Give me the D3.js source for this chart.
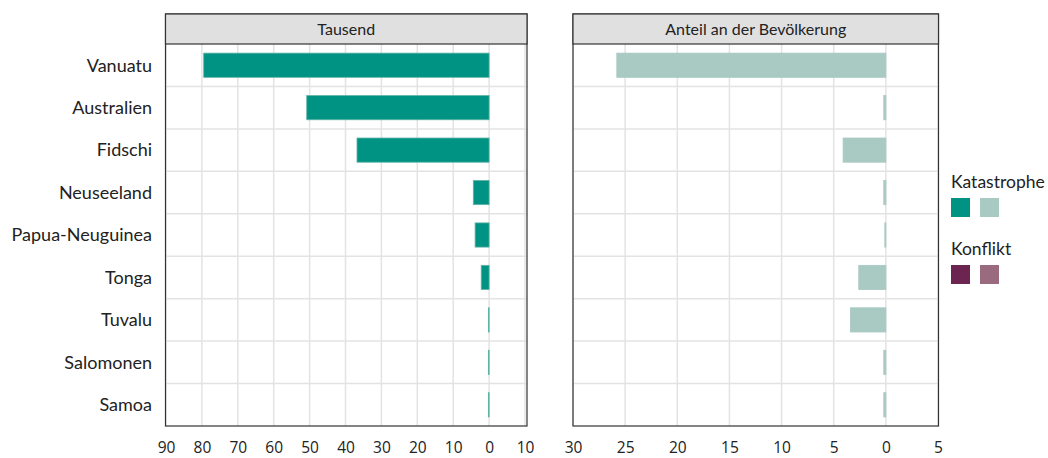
<!DOCTYPE html>
<html>
<head>
<meta charset="utf-8">
<script src="https://cdn.jsdelivr.net/npm/d3@7"></script>
<style>
  body { margin: 0; background: #fff; }
  svg text { fill: #222; }
</style>
</head>
<body>
<div id="chart"></div>
<script>
// Data
const countries = ["Vanuatu", "Australien", "Fidschi", "Neuseeland", "Papua-Neuguinea", "Tonga", "Tuvalu", "Salomonen", "Samoa"];
const thousands = [79.5, 50.8, 36.8, 4.4, 3.9, 2.2, 0.2, 0.2, 0.2];
const share = [25.8, 0.2, 4.1, 0.2, 0.1, 2.6, 3.4, 0.2, 0.2];
const leftTicks = [90, 80, 70, 60, 50, 40, 30, 20, 10, 0, -10];
const rightTicks = [30, 25, 20, 15, 10, 5, 0, -5];
const panelTitles = ["Tausend", "Anteil an der Bevölkerung"];
const legendGroups = ["Katastrophe", "Konflikt"];
const legendColors = [["#009383", "#a9c9c3"], ["#6b2550", "#9a6b7e"]];

const width = 1048, height = 458;
const plotTop = 14, headerH = 30, plotBottom = 426;

const svg = d3.select("#chart").append("svg")
    .attr("width", width)
    .attr("height", height);

// shared band scale for the rows
const y = d3.scaleBand()
    .domain(countries)
    .range([plotTop + headerH, plotBottom])
    .paddingInner(0.43)
    .paddingOuter(0.215);

const step = y.step();

// draw one facet panel
function drawPanel(x0, x1, frame, domain, ticks, values, title, fill, stroke) {
    const x = d3.scaleLinear().domain(domain).range([x0, x1]);
    const g = svg.append("g");
    const [fx0, fx1] = frame;

    // vertical grid
    g.selectAll(".vgrid")
        .data(ticks)
        .join("line")
        .attr("x1", d => x(d)).attr("x2", d => x(d))
        .attr("y1", plotTop + headerH).attr("y2", plotBottom)
        .attr("stroke", "#e3e3e3")
        .attr("stroke-width", 1.5);

    // horizontal grid between rows
    g.selectAll(".hgrid")
        .data(countries.slice(1))
        .join("line")
        .attr("x1", fx0).attr("x2", fx1)
        .attr("y1", d => y(d) - (step - y.bandwidth()) / 2)
        .attr("y2", d => y(d) - (step - y.bandwidth()) / 2)
        .attr("stroke", "#e3e3e3")
        .attr("stroke-width", 1.5);

    // bars
    g.selectAll(".bar")
        .data(values.map((v, i) => ({ name: countries[i], v })))
        .join("rect")
        .attr("x", d => x(d.v))
        .attr("width", d => Math.max(0, x(0) - x(d.v)))
        .attr("y", d => y(d.name))
        .attr("height", y.bandwidth())
        .attr("fill", fill)
        .attr("stroke", stroke)
        .attr("stroke-width", 0.8);

    // frame
    g.append("rect")
        .attr("x", fx0).attr("y", plotTop)
        .attr("width", fx1 - fx0).attr("height", plotBottom - plotTop)
        .attr("fill", "none")
        .attr("stroke", "#333")
        .attr("stroke-width", 1.2);

    // header strip
    g.append("rect")
        .attr("x", fx0).attr("y", plotTop)
        .attr("width", fx1 - fx0).attr("height", headerH)
        .attr("fill", "#e0e0e1")
        .attr("stroke", "#333")
        .attr("stroke-width", 1.2);

    g.append("text")
        .attr("x", (fx0 + fx1) / 2)
        .attr("y", plotTop + headerH / 2)
        .attr("dy", "0.35em")
        .attr("text-anchor", "middle")
        .style("font-family", "Lato, sans-serif")
        .style("font-size", "16px")
        .text(title);

    // bottom axis labels
    const axis = d3.axisBottom(x)
        .tickValues(ticks)
        .tickSize(0)
        .tickPadding(16)
        .tickFormat(d => Math.abs(d));

    const ag = svg.append("g")
        .attr("transform", `translate(0, ${plotBottom})`)
        .call(axis);
    ag.select(".domain").remove();
    ag.selectAll("text")
        .style("font-family", "'Open Sans', sans-serif")
        .style("font-size", "15.5px")
        .attr("fill", "#222");
}

drawPanel(166, 525, [165.5, 527], [90, -10], leftTicks, thousands, panelTitles[0], legendColors[0][0], "#5fb3a6");
drawPanel(573, 938, [573, 938.5], [30, -5], rightTicks, share, panelTitles[1], legendColors[0][1], "#a9c9c3");

// category labels
svg.selectAll(".cat")
    .data(countries)
    .join("text")
    .attr("x", 152)
    .attr("y", d => y(d) + y.bandwidth() / 2)
    .attr("dy", "0.35em")
    .attr("text-anchor", "end")
    .style("font-family", "Lato, sans-serif")
    .style("font-size", "18px")
    .text(d => d);

// legend
const legend = svg.append("g").attr("transform", "translate(951, 0)");
legendGroups.forEach((name, i) => {
    const gy = 182 + i * 67;
    legend.append("text")
        .attr("x", 0).attr("y", gy)
        .attr("dy", "0.35em")
        .style("font-family", "Lato, sans-serif")
        .style("font-size", "17.5px")
        .text(name);
    legendColors[i].forEach((c, j) => {
        legend.append("rect")
            .attr("x", j * 29).attr("y", gy + 16)
            .attr("width", 19).attr("height", 19)
            .attr("fill", c);
    });
});
</script>
</body>
</html>
